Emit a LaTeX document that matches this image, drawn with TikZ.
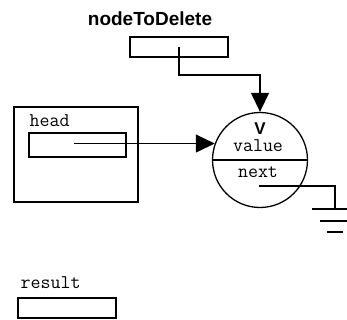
\documentclass[tikz,border=0pt]{standalone}
\usepackage{fontspec}
\setmainfont{Liberation Sans}
\usetikzlibrary{arrows.meta,calc}

\begin{document}
\begin{tikzpicture}[x=1pt, y=-1pt,
    >={Triangle[length=19pt, width=18pt]},
    line width=1.3pt,
    ptrbox/.style={draw, rectangle, minimum width=98pt, minimum height=20pt, inner sep=0pt},
    varlabel/.style={font=\fontsize{19.4}{22}\selectfont\ttfamily, inner sep=0pt}
]
\useasboundingbox (0,0) rectangle (347,320);

% nodeToDelete pointer
\node[font=\fontsize{19}{22}\selectfont\bfseries, inner sep=0pt] (DEL_LABEL) at (150,19) {nodeToDelete};
\node[ptrbox] (DEL_BOX) at (179,47) {};

% head frame
\node[draw, rectangle, minimum width=124pt, minimum height=95pt, inner sep=0pt] (FRAME) at (76,154.5) {};
\node[varlabel, anchor=west] (HEAD_LABEL) at (29,121) {head};
\node[ptrbox, minimum width=97pt, minimum height=24pt] (HEAD_BOX) at (77.5,145) {};

% list node
\node[draw, circle, minimum size=95pt, inner sep=0pt] (LISTNODE) at (260,160) {};
\draw (LISTNODE.west) -- (LISTNODE.east);
\node[font=\fontsize{17}{20}\selectfont\bfseries, inner sep=0pt] (V_LABEL) at (260,129) {V};
\node[varlabel] (VALUE) at (258,146) {value};
\node[varlabel] (NEXT) at (258,172) {next};
\coordinate (NEXT_PTR) at (259,186);
\coordinate (GROUND) at (335,209);

% result pointer
\node[varlabel, anchor=west] (RESULT_LABEL) at (20,283) {result};
\node[ptrbox] (RESULT_BOX) at (67,308) {};

% connectors
\draw[->] (DEL_BOX.center) -- ++(0,28) -| (LISTNODE.north);
\draw[->] ([xshift=-3.5pt]LISTNODE.160 -| HEAD_BOX.center) -- (LISTNODE.160);
\draw (NEXT_PTR) -| (GROUND);

% null ground
\draw ($(GROUND)+(-23,0)$) -- ($(GROUND)+(12,0)$);
\draw ($(GROUND)+(-15,12)$) -- ($(GROUND)+(12,12)$);
\draw ($(GROUND)+(-8,23)$) -- ($(GROUND)+(8,23)$);

\end{tikzpicture}
\end{document}
